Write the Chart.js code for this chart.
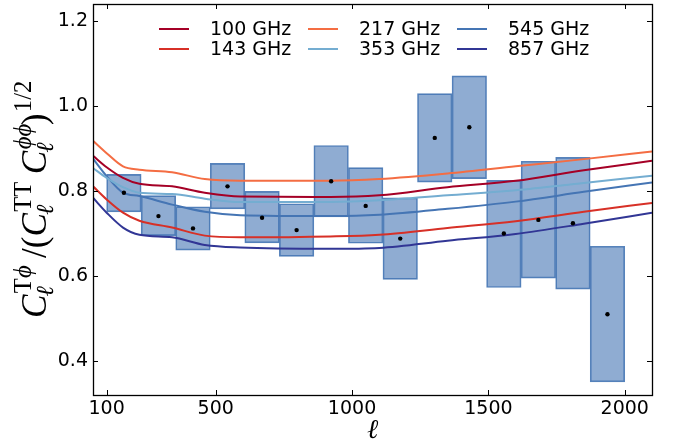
<!DOCTYPE html>
<html>
<head>
<meta charset="utf-8">
<script src="https://cdn.jsdelivr.net/npm/chart.js@4.4.0/dist/chart.umd.min.js"></script>
<style>
  html, body { margin: 0; padding: 0; background: #fff; }
</style>
</head>
<body>
<canvas id="chart" width="677" height="445"></canvas>
<script>
//Measured bins: centre multipole, value and box limits
const binCenters = [163.3, 290, 416.7, 543.3, 670, 796.7, 923.3, 1050, 1176.7, 1303.3, 1430, 1556.7, 1683.3, 1810, 1936.7];
const measured = [0.796, 0.741, 0.712, 0.811, 0.737, 0.708, 0.823, 0.765, 0.688, 0.925, 0.950, 0.700, 0.732, 0.724, 0.510];
const boxLow = [0.751, 0.695, 0.661, 0.758, 0.678, 0.646, 0.739, 0.677, 0.592, 0.821, 0.829, 0.573, 0.595, 0.569, 0.351];
const boxHigh = [0.839, 0.789, 0.763, 0.865, 0.799, 0.770, 0.907, 0.855, 0.784, 1.029, 1.071, 0.825, 0.870, 0.879, 0.670];

//Model curves, one per frequency
const modelEll = [50, 100, 160, 220, 340, 460, 590, 920, 1100, 1350, 1600, 1850, 2100];
const curve100 = [0.883, 0.856, 0.831, 0.817, 0.811, 0.796, 0.787, 0.786, 0.790, 0.809, 0.824, 0.849, 0.871];
const curve143 = [0.811, 0.780, 0.749, 0.730, 0.714, 0.695, 0.691, 0.693, 0.697, 0.713, 0.729, 0.751, 0.772];
const curve217 = [0.918, 0.889, 0.858, 0.850, 0.844, 0.828, 0.824, 0.824, 0.828, 0.841, 0.858, 0.875, 0.893];
const curve353 = [0.854, 0.831, 0.809, 0.796, 0.793, 0.782, 0.774, 0.774, 0.778, 0.790, 0.802, 0.819, 0.836];
const curve545 = [0.876, 0.835, 0.796, 0.788, 0.768, 0.751, 0.743, 0.741, 0.744, 0.758, 0.775, 0.798, 0.820];
const curve857 = [0.784, 0.749, 0.714, 0.697, 0.691, 0.673, 0.667, 0.664, 0.666, 0.683, 0.699, 0.723, 0.749];

const freqLabels = ["100 GHz", "143 GHz", "217 GHz", "353 GHz", "545 GHz", "857 GHz"];
const freqColors = ["#a50026", "#d73027", "#f46d43", "#74add1", "#4575b4", "#313695"];

const xTicks = [100, 500, 1000, 1500, 2000];
const yTicks = [0.4, 0.6, 0.8, 1.0, 1.2];

const curves = [curve100, curve143, curve217, curve353, curve545, curve857];
const lineSets = curves.map((c, i) => ({
  type: "line",
  label: freqLabels[i],
  data: modelEll.map((l, j) => ({ x: l, y: c[j] })),
  borderColor: freqColors[i],
  borderWidth: 2,
  pointRadius: 0,
  cubicInterpolationMode: "monotone",
  order: 2,
}));

//Frame with inward ticks on all four sides
const frameTicks = {
  id: "frameTicks",
  afterDatasetsDraw(chart) {
    const { ctx, chartArea: a, scales } = chart;
    ctx.save();
    ctx.strokeStyle = "#000";
    ctx.lineWidth = 1;
    ctx.beginPath();
    xTicks.forEach((v) => {
      const px = Math.round(scales.x.getPixelForValue(v)) + 0.5;
      ctx.moveTo(px, a.bottom); ctx.lineTo(px, a.bottom - 5);
      ctx.moveTo(px, a.top); ctx.lineTo(px, a.top + 5);
    });
    yTicks.forEach((v) => {
      const py = Math.round(scales.y.getPixelForValue(v)) + 0.5;
      ctx.moveTo(a.left, py); ctx.lineTo(a.left + 5, py);
      ctx.moveTo(a.right, py); ctx.lineTo(a.right - 5, py);
    });
    ctx.stroke();
    ctx.lineWidth = 1.3;
    ctx.strokeRect(Math.round(a.left) + 0.5, Math.round(a.top) + 0.5, Math.round(a.right - a.left), Math.round(a.bottom - a.top));
    ctx.restore();
  },
};

//Legend in three columns, column first like matplotlib
const columnLegend = {
  id: "columnLegend",
  afterDraw(chart) {
    const { ctx, chartArea: a } = chart;
    ctx.save();
    ctx.font = "19px 'DejaVu Sans'";
    ctx.textBaseline = "middle";
    ctx.fillStyle = "#000";
    chart.data.datasets.filter((d) => d.type === "line").forEach((d, i) => {
      const col = Math.floor(i / 2), row = i % 2;
      const x = a.left + 66 + col * 149;
      const y = a.top + 25 + row * 20;
      ctx.strokeStyle = d.borderColor;
      ctx.lineWidth = 2;
      ctx.beginPath();
      ctx.moveTo(x, y); ctx.lineTo(x + 30, y);
      ctx.stroke();
      ctx.fillText(d.label, x + 51, y + 1);
    });
    ctx.restore();
  },
};

//Math style axis titles
const yLabelParts = [
  { base: "C", sub: "ℓ", sup: "Tϕ" },
  { base: " /(" },
  { base: "C", sub: "ℓ", sup: "TT" },
  { base: " C", sub: "ℓ", sup: "ϕϕ" },
  { base: ")", sup: "1/2" },
];
const mathFont = (ch, sz) => ("Cℓϕ".includes(ch) ? "italic " : "") + sz + "px 'Liberation Serif', 'DejaVu Serif', serif";

const axisTitles = {
  id: "axisTitles",
  afterDraw(chart) {
    const { ctx, chartArea: a } = chart;
    const strWidth = (str, sz) => {
      let w = 0;
      for (const ch of str) { ctx.font = mathFont(ch, sz); w += ctx.measureText(ch).width; }
      return w;
    };
    const drawStr = (str, sz, x, y) => {
      for (const ch of str) { ctx.font = mathFont(ch, sz); ctx.fillText(ch, x, y); x += ctx.measureText(ch).width; }
    };
    const partWidth = (p, sz) => strWidth(p.base, sz) + Math.max(p.sub ? strWidth(p.sub, sz * 0.7) : 0, p.sup ? strWidth(p.sup, sz * 0.7) : 0);
    const total30 = yLabelParts.reduce((s, p) => s + partWidth(p, 30), 0);
    const size = 30 * 236 / total30;
    const small = size * 0.7;
    ctx.save();
    ctx.fillStyle = "#000";
    ctx.textBaseline = "alphabetic";
    ctx.textAlign = "left";
    ctx.translate(46, 200);
    ctx.rotate(-Math.PI / 2);
    let x = -118;
    yLabelParts.forEach((p) => {
      drawStr(p.base, size, x, 0);
      x += strWidth(p.base, size);
      if (p.sub) drawStr(p.sub, small, x - size * 0.05, size * 0.2);
      if (p.sup) drawStr(p.sup, small, x + size * 0.04, -size * 0.42);
      x += Math.max(p.sub ? strWidth(p.sub, small) : 0, p.sup ? strWidth(p.sup, small) : 0);
    });
    ctx.restore();
    ctx.save();
    ctx.fillStyle = "#000";
    ctx.textAlign = "center";
    ctx.font = "italic 27px 'Liberation Serif', 'DejaVu Serif', serif";
    ctx.fillText("ℓ", (a.left + a.right) / 2, 438);
    ctx.restore();
  },
};

new Chart(document.getElementById("chart"), {
  type: "scatter",
  plugins: [frameTicks, columnLegend, axisTitles],
  data: {
    datasets: [
      {
        type: "scatter",
        label: "measured",
        data: binCenters.map((x, i) => ({ x: x, y: measured[i] })),
        backgroundColor: "#000",
        borderWidth: 0,
        pointRadius: 2.2,
        order: 1,
      },
      ...lineSets,
      {
        type: "bar",
        label: "bins",
        data: binCenters.map((x, i) => ({ x: x, y: [boxLow[i], boxHigh[i]] })),
        backgroundColor: "rgba(69,117,180,0.6)",
        borderColor: "rgba(69,117,180,0.9)",
        borderWidth: 1,
        borderSkipped: false,
        barPercentage: 1,
        categoryPercentage: 1,
        order: 3,
      },
    ],
  },
  options: {
    responsive: false,
    animation: false,
    layout: { padding: { top: 2, right: 25, left: 0, bottom: 0 } },
    plugins: {
      legend: { display: false },
      tooltip: { enabled: false },
    },
    scales: {
      x: {
        type: "linear",
        min: 50,
        max: 2100,
        offset: false,
        grid: { display: false, drawTicks: false, offset: false },
        border: { display: false },
        afterBuildTicks: (s) => { s.ticks = xTicks.map((v) => ({ value: v })); },
        ticks: { color: "#000", font: { family: "DejaVu Sans", size: 19 }, padding: 3, maxRotation: 0, autoSkip: false, callback: (v) => String(v) },
        afterFit: (s) => { s.height = 50; s.paddingLeft = 0; s.paddingRight = 0; },
      },
      y: {
        type: "linear",
        min: 0.32,
        max: 1.24,
        grid: { display: false, drawTicks: false },
        border: { display: false },
        afterBuildTicks: (s) => { s.ticks = yTicks.map((v) => ({ value: v })); },
        ticks: { color: "#000", font: { family: "DejaVu Sans", size: 19 }, padding: 5, callback: (v) => v.toFixed(1) },
        afterFit: (s) => { s.width = 93; s.paddingTop = 0; s.paddingBottom = 0; },
      },
    },
  },
});
</script>
</body>
</html>
